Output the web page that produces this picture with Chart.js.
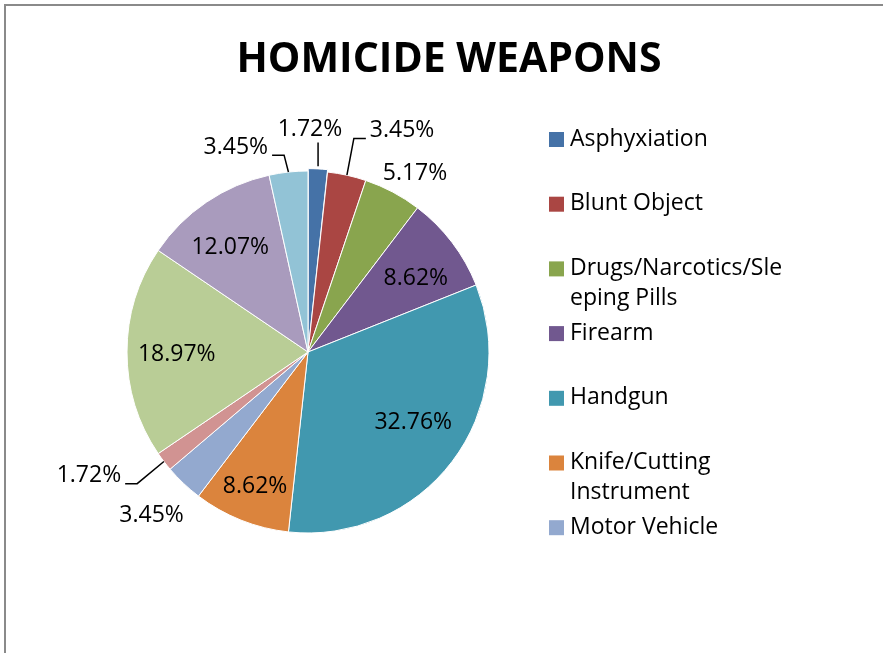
<!DOCTYPE html>
<html lang="en">
<head>
    <meta charset="UTF-8">
    <title>Homicide Weapons</title>
    <script src="https://cdn.jsdelivr.net/npm/chart.js"></script>
    <style>
        body { margin: 0; background: #fff; }
    </style>
</head>
<body>
    <canvas id="myChart" width="883" height="653"></canvas>

    <script>
        // categories (only the first 7 fit in the legend)
        const weapons = ['Asphyxiation', 'Blunt Object', 'Drugs/Narcotics/Sleeping Pills', 'Firearm',
            'Handgun', 'Knife/Cutting Instrument', 'Motor Vehicle', 'Other', 'Personal Weapons',
            'Rifle', 'Unknown'];
        // number of homicides per weapon (58 total)
        const counts = [1, 2, 3, 5, 19, 5, 2, 1, 11, 7, 2];
        const colors = ['#4572A7', '#AA4643', '#89A54E', '#71588F', '#4198AF', '#DB843D',
            '#93A9CF', '#D19392', '#B9CD96', '#A99BBD', '#92C3D6'];

        // where each data label sits: radius factor, angle shift (deg), leader line
        const labelDist = [1.23, 1.33, 1.15, 0.72, 0.70, 0.80, 1.25, 1.39, 0.725, 0.72, 1.20];
        const labelShift = [-2.6, 10.6, 3, 3.1, -3.4, -0.3, 0.3, 7.8, -1, -2.5, -13.2];
        const leaders = [true, true, false, false, false, false, false, true, false, false, true];

        const total = counts.reduce((a, b) => a + b, 0);
        const font = '"Open Sans", "DejaVu Sans", sans-serif';

        const framePlugin = {
            id: 'frame',
            beforeDraw(chart) {
                const ctx = chart.ctx;
                ctx.save();
                ctx.fillStyle = '#fff';
                ctx.fillRect(0, 0, chart.width, chart.height);
                ctx.strokeStyle = '#8a8a8a';
                ctx.lineWidth = 2;
                ctx.beginPath();
                ctx.moveTo(5, chart.height);
                ctx.lineTo(5, 5);
                ctx.lineTo(chart.width, 5);
                ctx.stroke();
                // title
                ctx.fillStyle = '#000';
                ctx.font = 'bold 41px ' + font;
                ctx.textAlign = 'center';
                ctx.textBaseline = 'alphabetic';
                ctx.fillText('HOMICIDE WEAPONS', 449, 72);
                ctx.restore();
            }
        };

        const labelPlugin = {
            id: 'sliceLabels',
            afterDatasetsDraw(chart) {
                const ctx = chart.ctx;
                const meta = chart.getDatasetMeta(0);
                const ds = chart.data.datasets[0];
                ctx.save();
                ctx.font = '23px ' + font;
                ctx.fillStyle = '#000';
                ctx.strokeStyle = '#000';
                ctx.lineWidth = 1.5;
                ctx.textAlign = 'center';
                ctx.textBaseline = 'middle';
                meta.data.forEach((arc, i) => {
                    const p = arc.getProps(['x', 'y', 'startAngle', 'endAngle', 'outerRadius'], true);
                    const mid = (p.startAngle + p.endAngle) / 2;
                    const a = mid + labelShift[i] * Math.PI / 180;
                    const lx = p.x + Math.cos(a) * p.outerRadius * labelDist[i];
                    const ly = p.y + Math.sin(a) * p.outerRadius * labelDist[i];
                    const text = (ds.data[i] / total * 100).toFixed(2) + '%';
                    const w = ctx.measureText(text).width;
                    if (leaders[i]) {
                        const off = (ds.offset && ds.offset[i]) || 0;
                        const sx = p.x + Math.cos(mid) * (p.outerRadius + off);
                        const sy = p.y + Math.sin(mid) * (p.outerRadius + off);
                        ctx.beginPath();
                        ctx.moveTo(sx, sy);
                        if (Math.abs(lx - sx) < w / 2 - 5) {
                            ctx.lineTo(sx, ly + 13);
                        } else {
                            const side = lx > sx ? -1 : 1;
                            const ex = lx + side * (w / 2 + 4);
                            ctx.lineTo(ex + side * 12, ly + 8);
                            ctx.lineTo(ex, ly + 8);
                        }
                        ctx.stroke();
                    }
                    ctx.fillText(text, lx, ly);
                });
                ctx.restore();
            }
        };

        function wrapText(ctx, text, maxW) {
            const lines = [];
            let line = '';
            text.split(' ').forEach(word => {
                let test = line ? line + ' ' + word : word;
                if (ctx.measureText(test).width <= maxW) { line = test; return; }
                if (line) { lines.push(line); line = ''; }
                // break long words by characters
                let chunk = '';
                for (const ch of word) {
                    if (ctx.measureText(chunk + ch).width > maxW) { lines.push(chunk); chunk = ch; }
                    else chunk += ch;
                }
                line = chunk;
            });
            if (line) lines.push(line);
            return lines;
        }

        const legendPlugin = {
            id: 'sideLegend',
            afterDraw(chart) {
                const ctx = chart.ctx;
                const ds = chart.data.datasets[0];
                ctx.save();
                ctx.font = '23px ' + font;
                ctx.textAlign = 'left';
                ctx.textBaseline = 'middle';
                let y = 139;
                for (let i = 0; i < chart.data.labels.length; i++) {
                    if (y > 560) break;
                    ctx.fillStyle = ds.backgroundColor[i];
                    ctx.fillRect(549, y - 7, 15, 15);
                    ctx.fillStyle = '#000';
                    wrapText(ctx, chart.data.labels[i], 222).forEach((ln, k) => {
                        ctx.fillText(ln, 570, y + k * 30);
                    });
                    y += 64.7;
                }
                ctx.restore();
            }
        };

        const ctx = document.getElementById('myChart').getContext('2d');
        new Chart(ctx, {
            type: 'pie',
            data: {
                labels: weapons,
                datasets: [{
                    data: counts,
                    backgroundColor: colors,
                    borderColor: '#ffffff',
                    borderWidth: 1,
                    offset: [5, 0, 0, 0, 0, 0, 0, 0, 0, 0, 0],
                    radius: 181
                }]
            },
            options: {
                responsive: false,
                animation: false,
                layout: { padding: { left: 100, right: 367, top: 140, bottom: 89 } },
                plugins: {
                    legend: { display: false },
                    title: { display: false },
                    tooltip: { enabled: false }
                }
            },
            plugins: [framePlugin, labelPlugin, legendPlugin]
        });
    </script>
</body>
</html>
